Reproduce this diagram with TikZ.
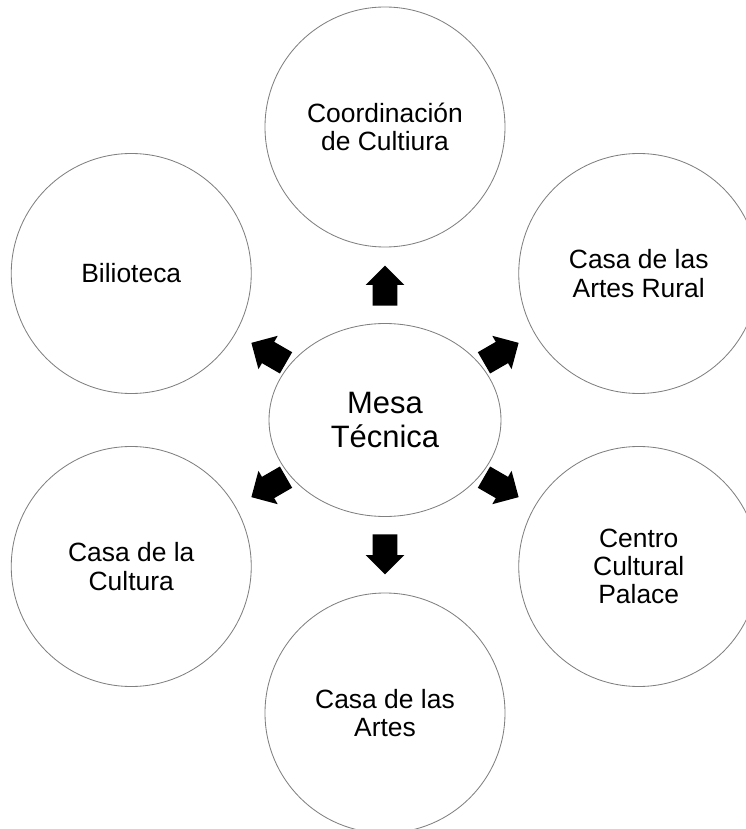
\documentclass[tikz,border=0pt]{standalone}
\usepackage{fontspec}
\setmainfont{Liberation Sans}
\usetikzlibrary{shapes.geometric,shapes.arrows}

\begin{document}
\begin{tikzpicture}[every node/.style={font=\fontsize{18.8}{20}\selectfont, align=center},
	area/.style={circle, draw=black!50, line width=0.6pt, minimum size=6cm, inner sep=0pt},
	flecha/.style={single arrow, fill=black, inner xsep=0pt, inner ysep=0.3cm, text height=0pt, text depth=0pt,
		minimum height=1cm, single arrow head extend=0.175cm}]
	\useasboundingbox (-9.625,-10.225) rectangle (9.025,10.5);
	\node[ellipse, draw=black!50, line width=0.6pt, minimum width=5.8cm, minimum height=4.825cm,
		font=\fontsize{22}{24.2}\selectfont] (mesa) at (0,0) {Mesa\\Técnica};
	\foreach \a/\n/\s in {90/coord/Coordinación\\de Cultiura, 30/rural/Casa de las\\Artes Rural,
		330/palace/Centro\\Cultural\\Palace, 270/artes/Casa de las\\Artes,
		210/cultura/Casa de la\\Cultura, 150/biblio/Bilioteca} {
		\node[area] (\n) at (\a:7.325) {\s};
		\node[flecha, rotate=\a, anchor=tail] (f\n) at (\a:2.85) {};
	}
\end{tikzpicture}
\end{document}
